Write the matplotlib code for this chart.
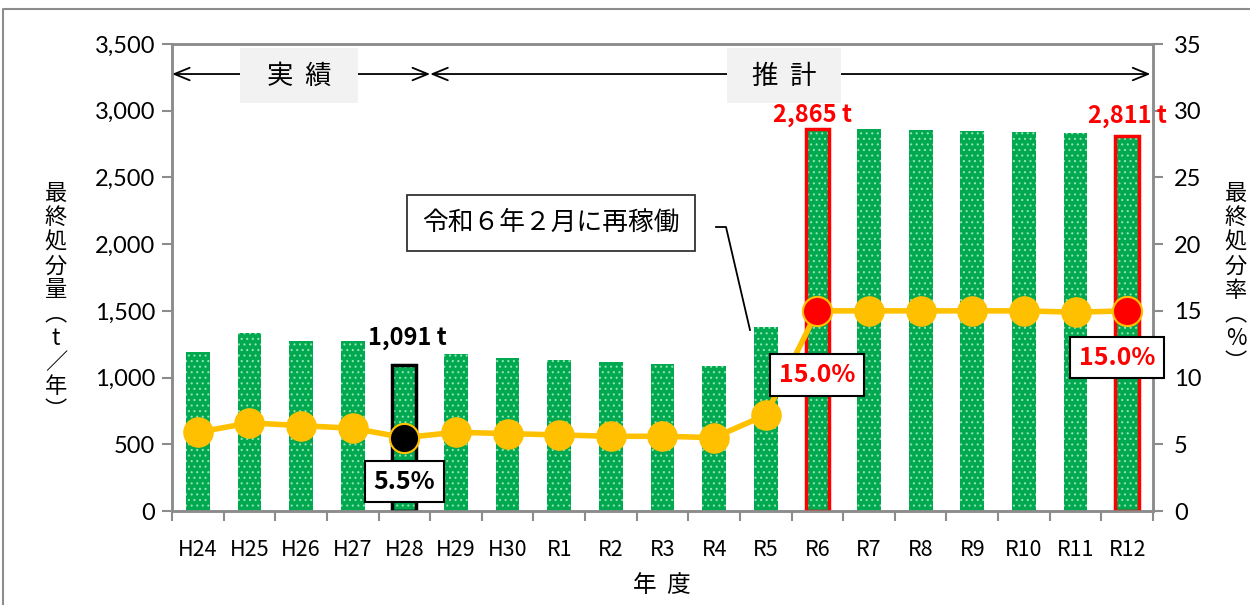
import matplotlib
matplotlib.use("Agg")
import matplotlib.pyplot as plt
from matplotlib.lines import Line2D
from matplotlib.patches import Rectangle
import numpy as np

plt.rcParams["font.family"] = ["Noto Sans CJK JP", "DejaVu Sans"]
plt.rcParams["hatch.linewidth"] = 0.8

years = ["H24", "H25", "H26", "H27", "H28", "H29", "H30",
         "R1", "R2", "R3", "R4", "R5", "R6", "R7", "R8", "R9", "R10", "R11", "R12"]
amount = [1194, 1334, 1276, 1276, 1091, 1179, 1149,
          1134, 1119, 1104, 1089, 1381, 2865, 2862, 2853, 2850, 2838, 2835, 2811]
rate = [5.9, 6.6, 6.4, 6.2, 5.5, 5.9, 5.8,
        5.7, 5.6, 5.6, 5.5, 7.2, 15.0, 15.0, 15.0, 15.0, 15.0, 14.9, 15.0]

GREEN = "#00A84F"
ORANGE = "#FFC000"
GRAY = "#8C8C8C"

W, H = 1250, 605
fig = plt.figure(figsize=(W / 100, H / 100), dpi=100)


def fx(px):
    return px / W


def fy(py):
    return 1 - py / H


ax = fig.add_axes([fx(172), fy(511), fx(1153) - fx(172), fy(44) - fy(511)])
ax2 = ax.twinx()

x = np.arange(len(years))
ax.bar(x, amount, width=0.46, color=GREEN, hatch="...", edgecolor="#8EE3B2",
       linewidth=0, zorder=2)

# highlighted bars get an outline
hl = {4: "black", 12: "red", 18: "red"}
for i, c in hl.items():
    ax.bar(x[i], amount[i], width=0.46, fill=False, edgecolor=c, linewidth=2.5, zorder=3)

ax.set_xlim(-0.5, len(years) - 0.5)
ax.set_ylim(0, 3500)
ax.set_yticks(np.arange(0, 3501, 500))
ax.set_yticklabels([f"{v:,}" for v in range(0, 3501, 500)], family="Lato", fontsize=17)
ax.set_xticks(x)
ax.set_xticklabels(years, fontsize=15.5)
ax.set_xticks(np.arange(-0.5, len(years)), minor=True)
ax.tick_params(axis="x", which="major", length=0, pad=20)
ax.tick_params(axis="x", which="minor", length=7, color=GRAY, width=1.5, direction="out")
ax.tick_params(axis="y", length=7, color=GRAY, width=1.5, pad=5)

ax2.set_ylim(0, 35)
ax2.set_yticks(np.arange(0, 36, 5))
ax2.set_yticklabels([str(v) for v in range(0, 36, 5)], family="Lato", fontsize=17)
ax2.tick_params(axis="y", length=7, color=GRAY, width=1.5, pad=8)

for a in (ax, ax2):
    for s in a.spines.values():
        s.set_color(GRAY)
        s.set_linewidth(1.8)

ax2.plot(x, rate, color=ORANGE, lw=4, marker="o", ms=21, mfc=ORANGE, mec=ORANGE, zorder=4)
for i, c in hl.items():
    face = "black" if c == "black" else "red"
    ax2.plot(x[i], rate[i], "o", ms=21, mfc=face, mec=ORANGE, mew=1.5, zorder=5)

ax.set_zorder(ax2.get_zorder() - 1)
ax.patch.set_visible(True)
ax2.patch.set_visible(False)

# value labels
bold = dict(fontsize=17, fontweight="bold", ha="center", va="center")
ax2.text(4.05, (amount[4] + 205) / 100, f"{amount[4]:,} t", color="black", zorder=8, **bold)
ax2.text(11.9, (amount[12] + 100) / 100, f"{amount[12]:,} t", color="red", zorder=8, **bold)
ax2.text(18.0, (amount[18] + 150) / 100, f"{amount[18]:,} t", color="red", zorder=8, **bold)

box = dict(boxstyle="square,pad=0.35", fc="white", ec="black", lw=1.5)
bold_box = dict(bold, fontsize=18)
ax2.text(4.0, 2.2, f"{rate[4]:.1f}%", color="black", bbox=box, zorder=8, **bold_box)
ax2.text(12.0, 10.2, f"{rate[12]:.1f}%", color="red", bbox=box, zorder=8, **bold_box)
ax2.text(17.8, 11.5, f"{rate[18]:.1f}%", color="red", bbox=box, zorder=8, **bold_box)

# period arrows
yarr = 3275
ax.annotate("", xy=(-0.5, yarr), xytext=(4.5, yarr),
            arrowprops=dict(arrowstyle="<->,head_length=1.1,head_width=0.45", lw=1.3, color="black",
                            shrinkA=0, shrinkB=0), zorder=6)
ax.annotate("", xy=(4.5, yarr), xytext=(18.45, yarr),
            arrowprops=dict(arrowstyle="<->,head_length=1.1,head_width=0.45", lw=1.3, color="black",
                            shrinkA=0, shrinkB=0), zorder=6)
for x0, x1, label in [(240, 358, "実  績"), (727, 841, "推  計")]:
    fig.add_artist(Rectangle((fx(x0), fy(103)), fx(x1) - fx(x0), fy(48) - fy(103),
                             fc="#F2F2F2", ec="none", zorder=6))
    fig.text(fx((x0 + x1) / 2), fy(76), label, fontsize=19, ha="center", va="center", zorder=7)

# callout
fig.text(fx(551), fy(223), "令和６年２月に再稼働", fontsize=18.5, ha="center", va="center",
         bbox=dict(boxstyle="square,pad=0.6", fc="white", ec="#333333", lw=1.3), zorder=7)
fig.add_artist(Line2D([fx(716), fx(726), fx(750)], [fy(227), fy(227), fy(330)],
                      color="black", lw=1.3))

# axis titles (vertical writing)
left_title = ["最", "終", "処", "分", "量", "︵", "t", "／", "年", "︶"]
fig.text(fx(56), fy(302), "\n".join(left_title), fontsize=16, ha="center", va="center",
         linespacing=1.06)
right_title = ["最", "終", "処", "分", "率", "︵", "%", "︶"]
fig.text(fx(1236), fy(278), "\n".join(right_title), fontsize=16, ha="center", va="center",
         linespacing=1.06)
fig.text(fx(662), fy(585), "年  度", fontsize=17, ha="center", va="center")

# chart frame
fig.add_artist(Line2D([fx(3), fx(3), fx(1250)], [0, fy(9), fy(9)], color=GRAY, lw=1.5))

fig.savefig("out.png", dpi=100)
